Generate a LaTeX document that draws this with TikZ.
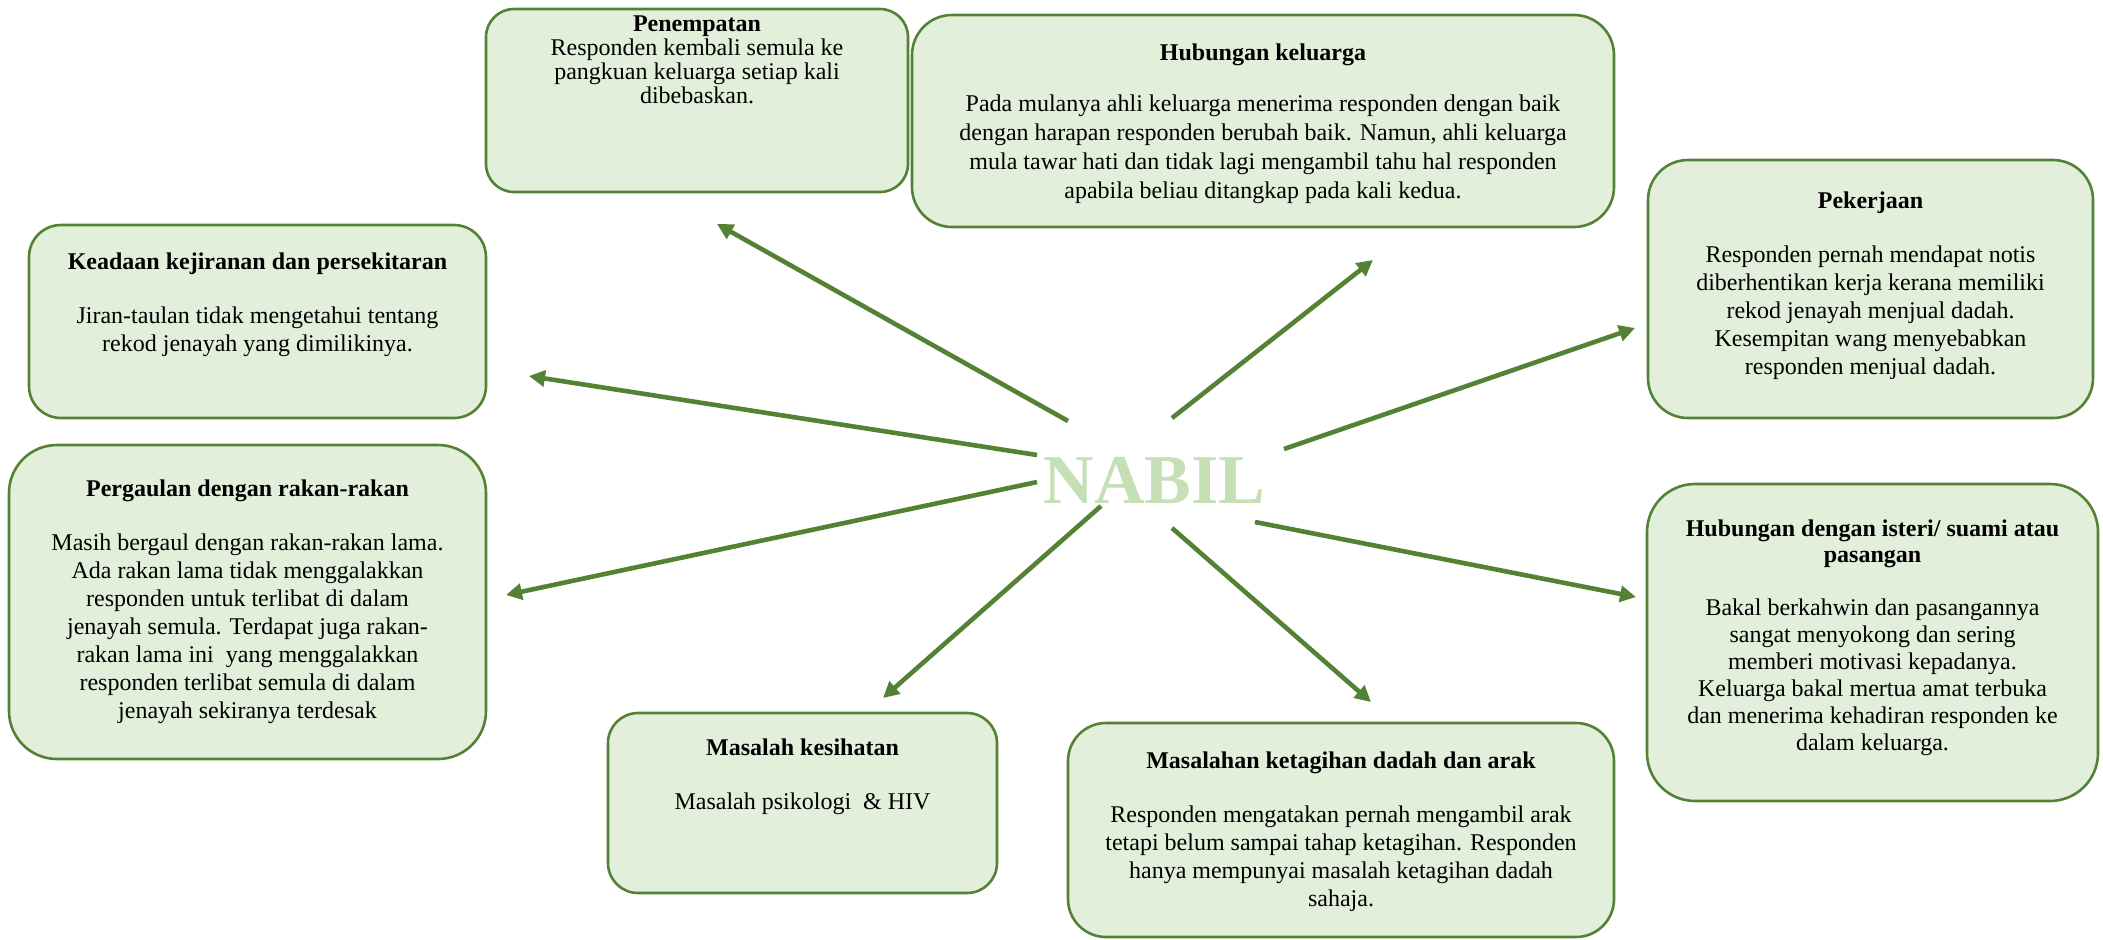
\documentclass[tikz,border=0pt]{standalone}
\usepackage{fontspec}
\setmainfont{Liberation Serif}
\usetikzlibrary{arrows.meta}

\definecolor{leaf}{HTML}{548235}
\definecolor{pale}{HTML}{E2EFDA}
\definecolor{soft}{HTML}{C5E0B4}

\tikzset{
	topic/.style={draw=leaf, fill=pale, line width=1.3pt, rounded corners=#1,
		align=center, inner sep=0pt, font=\fontsize{12}{14}\selectfont},
	link/.style={draw=leaf, line width=2.3pt, -{Triangle[length=8pt,width=8pt]}},
}

\begin{document}
\begin{tikzpicture}[x=0.5pt, y=-0.5pt]
	\useasboundingbox (0,0) rectangle (2103,939);

	\node [topic=14pt, minimum width=211pt, minimum height=91.5pt, text depth=41pt,
		font=\fontsize{12}{12}\selectfont] (a) at (697,100.5)
		{\textbf{Penempatan}\\ Responden kembali semula ke\\ pangkuan keluarga setiap kali\\ dibebaskan.};
	\node [topic=20pt, minimum width=351pt, minimum height=106pt, text depth=0pt,
		font=\fontsize{12}{14.5}\selectfont] (b) at (1263,121)
		{\textbf{Hubungan keluarga}\\[11pt]
		Pada mulanya ahli keluarga menerima responden dengan baik\\
		dengan harapan responden berubah baik. Namun, ahli keluarga\\
		mula tawar hati dan tidak lagi mengambil tahu hal responden\\
		apabila beliau ditangkap pada kali kedua.};
	\node [topic=20pt, minimum width=222.5pt, minimum height=129pt, text depth=5.8pt] (c) at (1870.5,289)
		{\textbf{Pekerjaan}\\[13pt]
		Responden pernah mendapat notis\\
		diberhentikan kerja kerana memiliki\\
		rekod jenayah menjual dadah.\\
		Kesempitan wang menyebabkan\\
		responden menjual dadah.};
	\node [topic=16pt, minimum width=228.5pt, minimum height=96.5pt, text depth=19pt] (d) at (257.5,321.5)
		{\textbf{Keadaan kejiranan dan persekitaran}\\[13pt]
		Jiran-taulan tidak mengetahui tentang\\
		rekod jenayah yang dimilikinya.};
	\node [topic=24pt, minimum width=238.5pt, minimum height=157pt] (e) at (247.5,602)
		{\textbf{Pergaulan dengan rakan-rakan}\\[13pt]
		Masih bergaul dengan rakan-rakan lama.\\
		Ada rakan lama tidak menggalakkan\\
		responden untuk terlibat di dalam\\
		jenayah semula. Terdapat juga rakan-\\
		rakan lama ini\ \ yang menggalakkan\\
		responden terlibat semula di dalam\\
		jenayah sekiranya terdesak};
	\node [topic=15pt, minimum width=194.5pt, minimum height=90pt, text depth=29pt] (f) at (802.5,803)
		{\textbf{Masalah kesihatan}\\[13pt]
		Masalah psikologi\ \ \& HIV};
	\node [topic=19pt, minimum width=273pt, minimum height=107pt, text depth=1pt] (g) at (1341,830)
		{\textbf{Masalahan ketagihan dadah dan arak}\\[13pt]
		Responden mengatakan pernah mengambil arak\\
		tetapi belum sampai tahap ketagihan. Responden\\
		hanya mempunyai masalah ketagihan dadah\\
		sahaja.};
	\node [topic=24pt, minimum width=225.5pt, minimum height=158.5pt, text depth=7.3pt,
		font=\fontsize{12}{13.5}\selectfont] (h) at (1872.5,642.5)
		{\textbf{Hubungan dengan isteri/ suami atau}\\[-0.5pt]
		\textbf{pasangan}\\[13pt]
		Bakal berkahwin dan pasangannya\\
		sangat menyokong dan sering\\
		memberi motivasi kepadanya.\\
		Keluarga bakal mertua amat terbuka\\
		dan menerima kehadiran responden ke\\
		dalam keluarga.};

	\node [text=soft, font=\bfseries\fontsize{35}{40}\selectfont, inner sep=0pt] (n) at (1154.5,480) {NABIL};

	% arrow ends round NABIL
	\coordinate (s1) at (1068,421); \coordinate (t1) at (717,224);
	\coordinate (s2) at (1172,418); \coordinate (t2) at (1373,260);
	\coordinate (s3) at (1284,449); \coordinate (t3) at (1635,328);
	\coordinate (s4) at (1037,455); \coordinate (t4) at (529,376);
	\coordinate (s5) at (1037,482); \coordinate (t5) at (506,595);
	\coordinate (s6) at (1101,506); \coordinate (t6) at (883,698);
	\coordinate (s7) at (1172,528); \coordinate (t7) at (1371,702);
	\coordinate (s8) at (1255,522); \coordinate (t8) at (1636,597);

	\draw [link] (s1) -- (t1);
	\draw [link] (s2) -- (t2);
	\draw [link] (s3) -- (t3);
	\draw [link] (s4) -- (t4);
	\draw [link] (s5) -- (t5);
	\draw [link] (s6) -- (t6);
	\draw [link] (s7) -- (t7);
	\draw [link] (s8) -- (t8);

\end{tikzpicture}
\end{document}
